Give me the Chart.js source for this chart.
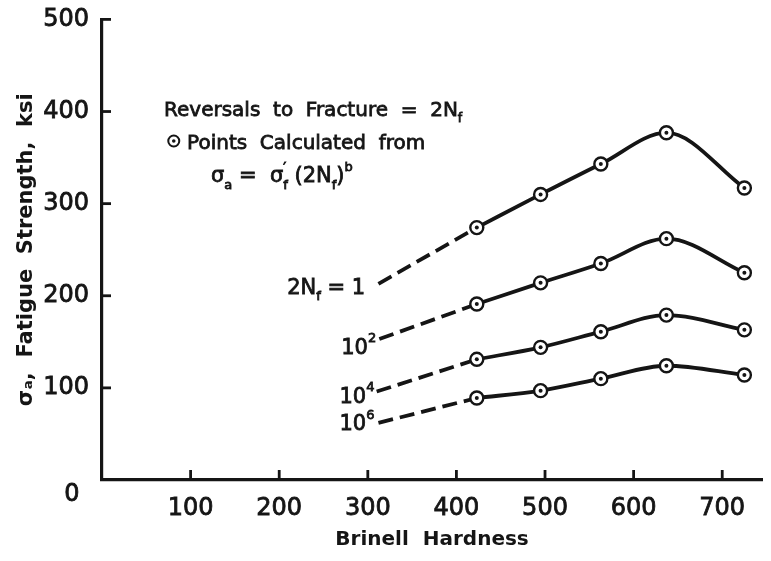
<!DOCTYPE html>
<html>
<head>
<meta charset="utf-8">
<script src="https://cdn.jsdelivr.net/npm/chart.js@4.4.1/dist/chart.umd.min.js"></script>
<style>
  html, body { margin: 0; padding: 0; background: #fff; }
  #wrap { width: 771px; height: 561px; }
</style>
</head>
<body>
<div id="wrap"><canvas id="fatigueChart"></canvas></div>
<script>
// Brinell hardness of the calculated points
const hardness = [423, 495, 563, 637, 725];

// fatigue strength (ksi) for each life, 2Nf = 1, 10^2, 10^4, 10^6
const strength1   = [274, 310, 343, 377, 317];
const strength1e2 = [191, 214, 235, 262, 225];
const strength1e4 = [131, 144, 161, 179, 163];
const strength1e6 = [89, 97, 110, 124, 114];
const curves = [strength1, strength1e2, strength1e4, strength1e6];

// where the dashed extrapolations begin (hardness, ksi)
const dashStartHardness = [312, 313, 310, 312];
const dashStartStrength = [213, 153, 96, 62];

const xTicks = [100, 200, 300, 400, 500, 600, 700];
const yTicks = [100, 200, 300, 400, 500];

const INK = '#151515';
const FONT = '"DejaVu Sans", sans-serif';

const datasets = [];
// little dots in the middle of each circle
curves.forEach(vals => {
    datasets.push({
        data: hardness.map((h, i) => ({ x: h, y: vals[i] })),
        showLine: false, pointRadius: 2, pointBackgroundColor: INK,
        pointBorderWidth: 0, order: 0
    });
});
// open circles
curves.forEach(vals => {
    datasets.push({
        data: hardness.map((h, i) => ({ x: h, y: vals[i] })),
        showLine: false, pointRadius: 6.5, pointBackgroundColor: '#fff',
        pointBorderColor: INK, pointBorderWidth: 2.4, order: 1
    });
});
// solid curves through the points
curves.forEach(vals => {
    datasets.push({
        data: hardness.map((h, i) => ({ x: h, y: vals[i] })),
        showLine: true, pointRadius: 0, borderColor: INK, borderWidth: 3.8,
        cubicInterpolationMode: 'monotone', order: 2
    });
});
// dashed extrapolation down to lower hardness
curves.forEach((vals, k) => {
    datasets.push({
        data: [{ x: dashStartHardness[k], y: dashStartStrength[k] }, { x: hardness[0], y: vals[0] }],
        showLine: true, pointRadius: 0, borderColor: INK, borderWidth: 3.8,
        borderDash: [15, 7], order: 3
    });
});

// text runs with sub/superscripts, stroked a little to look heavier
function drawRuns(ctx, x, y, runs, size) {
    let cx = x;
    runs.forEach(r => {
        let s = size, dy = 0;
        if (r.sub) { s = size * 0.62; dy = size * 0.3; }
        if (r.sup) { s = size * 0.62; dy = -size * 0.55; }
        ctx.font = s + 'px ' + FONT;
        ctx.fillText(r.t, cx, y + dy);
        ctx.strokeText(r.t, cx, y + dy);
        if (!r.keep) cx += ctx.measureText(r.t).width;
    });
}

const notes = [
    { x: 70, y: 395, size: 20, runs: [{ t: 'Reversals  to  Fracture  =  2N' }, { t: 'f', sub: true }] },
    { x: 96, y: 359, size: 20, runs: [{ t: 'Points  Calculated  from' }] },
    { x: 123, y: 323, size: 21, runs: [{ t: 'σ' }, { t: 'a', sub: true }, { t: ' =  σ' }, { t: '′', sup: true, keep: true }, { t: 'f', sub: true }, { t: ' (2N' }, { t: 'f', sub: true }, { t: ')' }, { t: 'b', sup: true }] },
    { x: 209, y: 202, size: 21, runs: [{ t: '2N' }, { t: 'f', sub: true }, { t: ' = 1' }] },
    { x: 270, y: 137, size: 21, runs: [{ t: '10' }, { t: '2', sup: true }] },
    { x: 268, y: 84, size: 21, runs: [{ t: '10' }, { t: '4', sup: true }] },
    { x: 268, y: 54, size: 21, runs: [{ t: '10' }, { t: '6', sup: true }] }
];

const figureInk = {
    id: 'figureInk',
    afterDraw(chart) {
        const { ctx, chartArea, scales: { x, y } } = chart;
        ctx.save();
        ctx.strokeStyle = INK;
        ctx.fillStyle = INK;
        ctx.lineWidth = 2.8;
        // inward tick marks
        xTicks.forEach(v => {
            const px = x.getPixelForValue(v);
            ctx.beginPath();
            ctx.moveTo(px, chartArea.bottom);
            ctx.lineTo(px, chartArea.bottom - 10);
            ctx.stroke();
        });
        yTicks.forEach(v => {
            const py = y.getPixelForValue(v);
            ctx.beginPath();
            ctx.moveTo(chartArea.left, py);
            ctx.lineTo(chartArea.left + 9, py);
            ctx.stroke();
        });
        // origin label sits below the corner
        ctx.lineWidth = 0.8;
        ctx.font = '24px ' + FONT;
        ctx.textAlign = 'center';
        ctx.textBaseline = 'middle';
        ctx.fillText('0', chartArea.left - 30, chartArea.bottom + 15);
        ctx.strokeText('0', chartArea.left - 30, chartArea.bottom + 15);

        ctx.textAlign = 'left';
        ctx.textBaseline = 'alphabetic';
        notes.forEach(n => {
            drawRuns(ctx, x.getPixelForValue(n.x), y.getPixelForValue(n.y), n.runs, n.size);
        });
        // circle symbol in front of "Points Calculated from"
        const sx = x.getPixelForValue(81), sy = y.getPixelForValue(368);
        ctx.lineWidth = 2;
        ctx.beginPath();
        ctx.arc(sx, sy, 5.5, 0, Math.PI * 2);
        ctx.stroke();
        ctx.beginPath();
        ctx.arc(sx, sy, 1.8, 0, Math.PI * 2);
        ctx.fill();
        ctx.restore();
    }
};

new Chart(document.getElementById('fatigueChart'), {
    type: 'scatter',
    data: { datasets },
    options: {
        responsive: true,
        maintainAspectRatio: false,
        animation: false,
        devicePixelRatio: 1,
        layout: { padding: { top: 15, right: 1, left: 0, bottom: 0 } },
        plugins: { legend: { display: false }, tooltip: { enabled: false } },
        scales: {
            x: {
                type: 'linear', min: 0, max: 745,
                afterFit: s => { s.height = 81; },
                grid: { display: false },
                border: { display: true, color: INK, width: 3.2 },
                ticks: {
                    stepSize: 100, includeBounds: false, padding: 6,
                    color: INK, font: { family: FONT, size: 24 },
                    textStrokeColor: INK, textStrokeWidth: 0.8,
                    callback: v => (v === 0 ? '' : v)
                },
                title: {
                    display: true, text: 'Brinell  Hardness', color: INK,
                    font: { family: FONT, size: 20, weight: 'bold' }, padding: { top: 0, bottom: 9 }
                }
            },
            y: {
                min: 0, max: 500,
                afterFit: s => { s.width = 102; },
                grid: { display: false },
                border: { display: true, color: INK, width: 3.2 },
                ticks: {
                    stepSize: 100, padding: 5,
                    color: INK, font: { family: FONT, size: 24 },
                    textStrokeColor: INK, textStrokeWidth: 0.8,
                    callback: v => (v === 0 ? '' : v)
                },
                title: {
                    display: true, text: 'σₐ,  Fatigue  Strength,  ksi', color: INK,
                    font: { family: FONT, size: 21, weight: 'bold' }, padding: { top: 14, bottom: 0 }
                }
            }
        }
    },
    plugins: [figureInk]
});
</script>
</body>
</html>
